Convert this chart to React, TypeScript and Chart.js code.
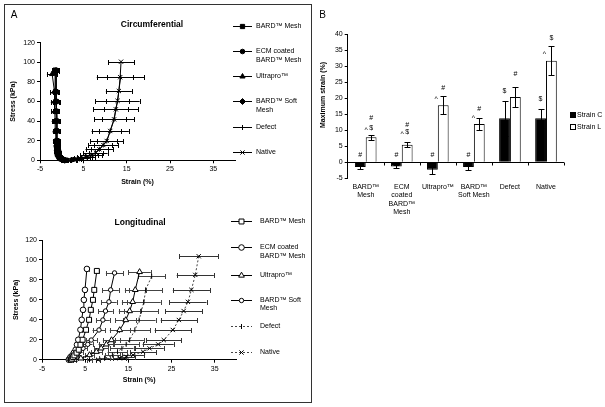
import React, { useEffect, useRef } from 'react';
import { Chart, registerables } from 'chart.js';
import { drawPoint } from 'chart.js/helpers';

Chart.register(...registerables);

const FONT = "'Liberation Sans', Arial, Helvetica, sans-serif";

// ---------- Panel A : stress / strain curves ----------
const X_TICKS = [-5, 5, 15, 25, 35];
const SERIES = ['BARD™ Mesh', 'ECM coated BARD™ Mesh', 'Ultrapro™', 'BARD™ Soft Mesh', 'Defect', 'Native'];
const LEGEND_LINES = [['BARD™ Mesh'], ['ECM coated', 'BARD™ Mesh'], ['Ultrapro™'], ['BARD™ Soft', 'Mesh'], ['Defect'], ['Native']];

// Circumferential (stress kPa, strain %, strain SD)
const C_BARD_STRESS = [0, 0.5, 1, 2, 3, 5, 7, 10, 15, 20, 30, 40, 50, 60, 70, 92];
const C_BARD_STRAIN = [0.8, 0.4, 0.1, -0.2, -0.4, -0.7, -0.8, -0.9, -1.0, -1.1, -1.2, -1.2, -1.25, -1.3, -1.35, -1.5];
const C_BARD_ERR = [0.2, 0.2, 0.3, 0.3, 0.3, 0.4, 0.4, 0.4, 0.5, 0.5, 0.6, 0.6, 0.6, 0.6, 0.6, 0.7];
const C_ECM_STRESS = [0, 0.5, 1, 2, 3, 5, 7, 10, 15, 20, 30, 40, 50, 60, 70, 92];
const C_ECM_STRAIN = [1.0, 0.6, 0.3, 0.0, -0.2, -0.5, -0.6, -0.7, -0.8, -0.9, -1.0, -1.0, -1.1, -1.1, -1.2, -1.3];
const C_ECM_ERR = [0.2, 0.2, 0.2, 0.3, 0.3, 0.3, 0.4, 0.4, 0.4, 0.5, 0.5, 0.5, 0.5, 0.6, 0.6, 0.6];
const C_ULTRA_STRESS = [0, 0.5, 1, 2, 3, 5, 7, 10, 15, 20, 30, 40, 50, 60, 70, 88];
const C_ULTRA_STRAIN = [0.6, 0.2, -0.1, -0.4, -0.6, -0.9, -1.0, -1.1, -1.2, -1.3, -1.4, -1.5, -1.6, -1.6, -1.7, -2.2];
const C_ULTRA_ERR = [0.2, 0.3, 0.3, 0.4, 0.4, 0.5, 0.5, 0.6, 0.6, 0.7, 0.7, 0.8, 0.8, 0.9, 0.9, 1.2];
const C_SOFT_STRESS = [0, 0.5, 1, 2, 3, 5, 7, 10, 15, 20, 30, 40, 50, 60, 70, 91];
const C_SOFT_STRAIN = [0.7, 0.3, 0.0, -0.3, -0.5, -0.8, -0.9, -1.0, -1.1, -1.2, -1.2, -1.3, -1.3, -1.4, -1.4, -1.5];
const C_SOFT_ERR = [0.2, 0.2, 0.3, 0.3, 0.4, 0.4, 0.4, 0.5, 0.5, 0.5, 0.6, 0.6, 0.7, 0.7, 0.7, 0.8];
const C_DEFECT_STRESS = [0, 0.3, 0.6, 1, 2, 3.5, 5.4, 7.8, 11.2, 15.6, 19.7, 29.9, 41.8, 52, 60.7, 84.8];
const C_DEFECT_STRAIN = [0.4, 1.4, 2.5, 3.5, 4.7, 5.7, 6.8, 7.8, 8.7, 9.6, 10.4, 11.2, 12.1, 12.5, 12.9, 13.6];
const C_DEFECT_ERR = [0.4, 0.8, 1.1, 1.4, 1.8, 2.1, 2.5, 2.8, 3.2, 3.5, 3.8, 4.3, 4.6, 5.2, 5.1, 5.5];
const C_NATIVE_STRESS = [0, 0.3, 0.6, 1, 2, 3.5, 5.4, 7.8, 11.2, 15.6, 19.7, 29.9, 41.8, 52, 60.7, 70.7, 84.8, 100.6];
const C_NATIVE_STRAIN = [0.5, 1.5, 2.6, 3.6, 4.8, 5.8, 6.9, 7.9, 8.7, 9.6, 10.4, 11.2, 12.1, 12.5, 12.9, 13.2, 13.5, 13.7];
const C_NATIVE_ERR = [0.3, 0.5, 0.7, 0.9, 1.1, 1.3, 1.5, 1.7, 1.9, 2.1, 2.3, 2.6, 2.7, 2.8, 2.7, 3.0, 3.0, 3.0];

// Longitudinal
const L_BARD_STRESS = [0, 1, 2.7, 4.3, 7, 10, 15, 20, 30, 40, 50, 60, 70, 89];
const L_BARD_STRAIN = [1.7, 1.9, 2.2, 2.5, 3.0, 3.5, 3.9, 4.4, 5.2, 5.9, 6.3, 6.8, 7.1, 7.7];
const L_BARD_ERR = [0.1, 0.1, 0.2, 0.2, 0.2, 0.3, 0.3, 0.3, 0.4, 0.4, 0.5, 0.5, 0.5, 0.6];
const L_ECM_STRESS = [0, 1, 2.7, 4.3, 7, 10, 15, 20, 30, 40, 50, 60, 70, 91];
const L_ECM_STRAIN = [1.2, 1.4, 1.6, 2.0, 2.4, 2.8, 3.1, 3.4, 3.9, 4.2, 4.5, 4.7, 4.95, 5.4];
const L_ECM_ERR = [0.1, 0.1, 0.1, 0.2, 0.2, 0.2, 0.2, 0.3, 0.3, 0.3, 0.3, 0.3, 0.3, 0.4];
const L_ULTRA_STRESS = [0, 1.4, 4.7, 8, 11.4, 15.4, 19.7, 29.8, 39.8, 48.8, 58, 70, 88];
const L_ULTRA_STRAIN = [2.5, 4.0, 6.0, 7.6, 8.7, 9.9, 11.1, 13.0, 14.4, 15.3, 16.0, 16.6, 17.6];
const L_ULTRA_ERR = [0.3, 0.6, 1.0, 1.3, 1.6, 1.8, 2.0, 2.3, 2.4, 2.5, 2.5, 2.4, 2.6];
const L_SOFT_STRESS = [0, 1.4, 4.7, 8, 11.4, 15.4, 19.7, 29.8, 39.8, 48.8, 58, 70, 87];
const L_SOFT_STRAIN = [1.5, 2.2, 3.0, 3.6, 4.5, 5.6, 6.4, 8.2, 9.1, 9.7, 10.5, 10.9, 11.8];
const L_SOFT_ERR = [0.2, 0.4, 0.6, 0.8, 1.0, 1.1, 1.3, 1.5, 1.6, 1.7, 1.8, 1.9, 2.0];
const L_DEFECT_STRESS = [0, 1.4, 4.7, 8, 11.4, 15.4, 19.7, 29.8, 39.8, 48.8, 58, 70, 83.6];
const L_DEFECT_STRAIN = [6, 9.5, 11.3, 12.5, 13.5, 14.5, 15.3, 16.5, 17.5, 18.0, 18.6, 19.0, 20.4];
const L_DEFECT_ERR = [0.5, 1.2, 1.8, 2.3, 2.7, 3.0, 3.3, 3.6, 3.8, 3.9, 3.9, 3.8, 3.2];
const L_NATIVE_STRESS = [0, 1.4, 3, 4.7, 8, 11.4, 15.4, 19.7, 29.8, 39.8, 48.8, 58, 70, 85, 103.7];
const L_NATIVE_STRAIN = [8, 13.0, 14.5, 16.1, 18.4, 19.9, 21.9, 23.2, 25.3, 26.7, 27.8, 28.8, 29.6, 30.5, 31.3];
const L_NATIVE_ERR = [0.5, 1.5, 2, 2.5, 3, 3.3, 3.6, 4, 4.2, 4.2, 4.3, 4.3, 4.3, 4.3, 4.5];

// ---------- Panel B : maximum strain ----------
const CATEGORIES = [['BARD™', 'Mesh'], ['ECM', 'coated', 'BARD™', 'Mesh'], ['Ultrapro™'], ['BARD™', 'Soft Mesh'], ['Defect'], ['Native']];
const BAR_SERIES = ['Strain C', 'Strain L'];
const STRAIN_C = [-1.5, -1.3, -2.3, -1.5, 13.8, 13.8];
const STRAIN_C_ERR = [0.7, 0.6, 1.2, 0.8, 5.5, 3.0];
const STRAIN_L = [7.8, 5.5, 17.8, 12.0, 20.4, 31.7];
const STRAIN_L_ERR = [0.8, 0.7, 2.8, 1.9, 3.2, 4.5];
// significance marks: category, series (0 = C, 1 = L), symbol
const MARKS: [number, number, string][] = [
  [0, 0, '#'], [0, 1, '^'], [0, 1, '$'], [0, 1, '#'],
  [1, 0, '#'], [1, 1, '^'], [1, 1, '$'], [1, 1, '#'],
  [2, 0, '#'], [2, 1, '^'], [2, 1, '#'],
  [3, 0, '#'], [3, 1, '^'], [3, 1, '#'],
  [4, 0, '$'], [4, 1, '#'],
  [5, 0, '$'], [5, 1, '^'], [5, 1, '$'],
];
// placement of each mark (px offsets from bar centre / top of error bar)
const MARK_OFFSETS: [number, number][] = [
  [0, -7], [-5, -5], [0, -7], [0, -16.5],
  [0, -7], [-5, -8], [0, -10], [0, -17.5],
  [0, -7], [-7, 2.5], [0, -8],
  [0, -7], [-6, 0], [0, -9],
  [0, -9.5], [0, -12.5],
  [0, -9], [-7, 8], [0, -8],
];

const pts = (strain: number[], stress: number[]) => strain.map((x, i) => ({ x, y: stress[i] }));

function lineDataset(i: number, strain: number[], stress: number[], err: number[], style: any) {
  return {
    label: SERIES[i],
    data: pts(strain, stress),
    xErr: err,
    showLine: true,
    tension: 0,
    clip: false,
    borderColor: style.line || '#000',
    borderWidth: 1,
    borderDash: style.dash || [],
    pointStyle: style.ps,
    pointRotation: style.rot || 0,
    pointRadius: style.r,
    pointBackgroundColor: style.fill,
    pointBorderColor: '#000',
    pointBorderWidth: 1,
    errColor: style.errColor || '#000',
  };
}

const xErrPlugin = {
  id: 'xErrBars',
  beforeDatasetsDraw(chart: any) {
    const { ctx } = chart;
    const xs = chart.scales.x;
    const ys = chart.scales.y;
    chart.data.datasets.forEach((ds: any) => {
      if (!ds.xErr) return;
      ctx.save();
      ctx.strokeStyle = ds.errColor;
      ctx.lineWidth = 1;
      ds.data.forEach((p: any, i: number) => {
        const e = ds.xErr[i];
        if (!e) return;
        const yy = Math.round(ys.getPixelForValue(p.y)) + 0.5;
        const x1 = xs.getPixelForValue(p.x - e);
        const x2 = xs.getPixelForValue(p.x + e);
        ctx.beginPath();
        ctx.moveTo(x1, yy); ctx.lineTo(x2, yy);
        ctx.moveTo(Math.round(x1) + 0.5, yy - 2.5); ctx.lineTo(Math.round(x1) + 0.5, yy + 2.5);
        ctx.moveTo(Math.round(x2) + 0.5, yy - 2.5); ctx.lineTo(Math.round(x2) + 0.5, yy + 2.5);
        ctx.stroke();
      });
      ctx.restore();
    });
  },
};

function lineOverlay(o: any) {
  return {
    id: 'lineOverlay',
    afterDraw(chart: any) {
      const ctx = chart.ctx;
      ctx.save();
      ctx.fillStyle = '#000';
      ctx.textBaseline = 'middle';
      if (o.letter) {
        ctx.font = `10px ${FONT}`;
        ctx.textAlign = 'center';
        ctx.fillText(o.letter, o.letterX, o.letterY);
      }
      ctx.font = `bold 8.5px ${FONT}`;
      ctx.textAlign = 'center';
      ctx.fillText(o.title, o.titleX, o.titleY);
      chart.data.datasets.forEach((ds: any, i: number) => {
        const y = o.rows[i];
        ctx.strokeStyle = ds.borderColor;
        ctx.lineWidth = 1;
        ctx.setLineDash(ds.borderDash || []);
        ctx.beginPath();
        ctx.moveTo(o.lx0, Math.round(y) + 0.5);
        ctx.lineTo(o.lx1, Math.round(y) + 0.5);
        ctx.stroke();
        ctx.setLineDash([]);
        ctx.fillStyle = ds.pointBackgroundColor;
        ctx.strokeStyle = '#000';
        drawPoint(ctx, { pointStyle: ds.pointStyle, rotation: ds.pointRotation, radius: ds.pointRadius, borderWidth: 1 }, (o.lx0 + o.lx1) / 2, Math.round(y) + 0.5);
        ctx.fillStyle = '#000';
        ctx.font = `7px ${FONT}`;
        ctx.textAlign = 'left';
        LEGEND_LINES[i].forEach((t, k) => ctx.fillText(t, o.tx, y + k * 8.7));
      });
      ctx.restore();
    },
  };
}

function lineConfig(datasets: any[], lay: any, overlay: any) {
  const tickFont = { family: FONT, size: 7 };
  const titleFont = { family: FONT, size: 7, weight: 'bold' as const };
  return {
    type: 'scatter' as const,
    data: { datasets },
    plugins: [xErrPlugin, lineOverlay(overlay)],
    options: {
      responsive: false,
      animation: false as const,
      devicePixelRatio: 1,
      layout: { padding: lay.padding },
      plugins: { legend: { display: false }, tooltip: { enabled: false }, title: { display: false } },
      scales: {
        x: {
          type: 'linear' as const,
          min: -5,
          max: 40,
          afterBuildTicks: (s: any) => { s.ticks = X_TICKS.map((v) => ({ value: v })); },
          afterFit: (s: any) => { s.height = lay.xH; },
          grid: { drawOnChartArea: false, tickLength: 3, color: '#000' },
          border: { color: '#000' },
          ticks: { font: tickFont, color: '#000', padding: 2, maxRotation: 0, autoSkip: false },
          title: { display: true, text: 'Strain (%)', font: titleFont, color: '#000', padding: 0 },
        },
        y: {
          min: 0,
          max: 120,
          afterFit: (s: any) => { s.width = lay.yW; },
          grid: { drawOnChartArea: false, tickLength: 3, color: '#000' },
          border: { color: '#000' },
          ticks: { stepSize: 20, font: tickFont, color: '#000', padding: 2 },
          title: { display: true, text: 'Stress (kPa)', font: titleFont, color: '#000', padding: 0 },
        },
      },
    },
  };
}

const barPlugin = {
  id: 'barExtras',
  afterDatasetsDraw(chart: any) {
    const { ctx, chartArea } = chart;
    const ys = chart.scales.y;
    const errs = [STRAIN_C_ERR, STRAIN_L_ERR];
    const vals = [STRAIN_C, STRAIN_L];
    ctx.save();
    ctx.strokeStyle = '#000';
    ctx.lineWidth = 1;
    // error bars
    [0, 1].forEach((s) => {
      const meta = chart.getDatasetMeta(s);
      meta.data.forEach((el: any, i: number) => {
        const x = Math.round(el.x) + 0.5;
        const y1 = Math.round(ys.getPixelForValue(vals[s][i] - errs[s][i])) + 0.5;
        const y2 = Math.round(ys.getPixelForValue(vals[s][i] + errs[s][i])) + 0.5;
        ctx.beginPath();
        ctx.moveTo(x, y1); ctx.lineTo(x, y2);
        ctx.moveTo(x - 3, y1); ctx.lineTo(x + 3, y1);
        ctx.moveTo(x - 3, y2); ctx.lineTo(x + 3, y2);
        ctx.stroke();
      });
    });
    // zero axis with tick marks
    const y0 = Math.round(ys.getPixelForValue(0)) + 0.5;
    ctx.beginPath();
    ctx.moveTo(chartArea.left, y0); ctx.lineTo(chartArea.right, y0);
    const n = CATEGORIES.length;
    for (let k = 1; k <= n; k++) {
      const x = Math.round(chartArea.left + (k * (chartArea.right - chartArea.left)) / n) + 0.5;
      ctx.moveTo(x, y0); ctx.lineTo(x, y0 + 3);
    }
    ctx.stroke();
    // significance marks
    ctx.fillStyle = '#000';
    ctx.font = `7px ${FONT}`;
    ctx.textAlign = 'center';
    ctx.textBaseline = 'middle';
    MARKS.forEach(([c, s, t], k) => {
      const el = chart.getDatasetMeta(s).data[c];
      const top = ys.getPixelForValue(Math.max(0, vals[s][c] + errs[s][c]));
      const [dx, dy] = MARK_OFFSETS[k];
      ctx.fillText(t, el.x + dx, top + dy);
    });
    ctx.restore();
  },
  afterDraw(chart: any) {
    const ctx = chart.ctx;
    ctx.save();
    ctx.fillStyle = '#000';
    ctx.textBaseline = 'middle';
    ctx.textAlign = 'center';
    ctx.font = `10px ${FONT}`;
    ctx.fillText('B', 8.7, 15.7);
    ctx.save();
    ctx.translate(9, 95);
    ctx.rotate(-Math.PI / 2);
    ctx.font = `bold 7px ${FONT}`;
    ctx.fillText('Maximum strain (%)', 0, 0);
    ctx.restore();
    // legend
    ctx.font = `7px ${FONT}`;
    ctx.textAlign = 'left';
    const rows = [115, 127];
    BAR_SERIES.forEach((name, i) => {
      const y = rows[i];
      ctx.fillStyle = i === 0 ? '#000' : '#fff';
      ctx.strokeStyle = '#000';
      ctx.fillRect(256.5, y - 2.5, 5, 5);
      ctx.strokeRect(256.5, y - 2.5, 5, 5);
      ctx.fillStyle = '#000';
      ctx.fillText(name, 263, y);
    });
    ctx.restore();
  },
};

function barConfig() {
  const tickFont = { family: FONT, size: 7 };
  return {
    type: 'bar' as const,
    data: {
      labels: CATEGORIES,
      datasets: [
        { label: BAR_SERIES[0], data: STRAIN_C, backgroundColor: '#000', borderColor: '#000', borderWidth: 1, categoryPercentage: 0.6, barPercentage: 1.0 },
        { label: BAR_SERIES[1], data: STRAIN_L, backgroundColor: '#fff', borderColor: '#000', borderWidth: 1, categoryPercentage: 0.6, barPercentage: 1.0 },
      ],
    },
    plugins: [barPlugin],
    options: {
      responsive: false,
      animation: false as const,
      devicePixelRatio: 1,
      layout: { padding: { left: 4, right: 41, top: 34.3, bottom: 11.7 } },
      plugins: { legend: { display: false }, tooltip: { enabled: false }, title: { display: false } },
      scales: {
        x: {
          grid: { display: false, drawTicks: false },
          border: { display: false },
          afterFit: (s: any) => { s.height = 40; },
          ticks: { font: tickFont, color: '#000', padding: 4.5, maxRotation: 0, autoSkip: false },
        },
        y: {
          min: -5,
          max: 40,
          afterFit: (s: any) => { s.width = 29.7; },
          grid: { drawOnChartArea: false, tickLength: 3, color: '#000' },
          border: { color: '#000' },
          ticks: { stepSize: 5, font: tickFont, color: '#000', padding: 2 },
        },
      },
    },
  };
}

export default function App() {
  const circRef = useRef<HTMLCanvasElement>(null);
  const longRef = useRef<HTMLCanvasElement>(null);
  const barRef = useRef<HTMLCanvasElement>(null);

  useEffect(() => {
    const circSets = [
      lineDataset(0, C_BARD_STRAIN, C_BARD_STRESS, C_BARD_ERR, { ps: 'rect', r: 3, fill: '#000' }),
      lineDataset(1, C_ECM_STRAIN, C_ECM_STRESS, C_ECM_ERR, { ps: 'circle', r: 2.3, fill: '#000' }),
      lineDataset(2, C_ULTRA_STRAIN, C_ULTRA_STRESS, C_ULTRA_ERR, { ps: 'triangle', r: 3, fill: '#000' }),
      lineDataset(3, C_SOFT_STRAIN, C_SOFT_STRESS, C_SOFT_ERR, { ps: 'rectRot', r: 3, fill: '#000' }),
      lineDataset(4, C_DEFECT_STRAIN, C_DEFECT_STRESS, C_DEFECT_ERR, { ps: 'line', rot: 90, r: 2.5, fill: '#000' }),
      lineDataset(5, C_NATIVE_STRAIN, C_NATIVE_STRESS, C_NATIVE_ERR, { ps: 'crossRot', r: 3, fill: '#000' }),
    ];
    const longSets = [
      lineDataset(0, L_BARD_STRAIN, L_BARD_STRESS, L_BARD_ERR, { ps: 'rect', r: 3.5, fill: '#fff', errColor: '#444' }),
      lineDataset(1, L_ECM_STRAIN, L_ECM_STRESS, L_ECM_ERR, { ps: 'circle', r: 2.8, fill: '#fff', errColor: '#444' }),
      lineDataset(2, L_ULTRA_STRAIN, L_ULTRA_STRESS, L_ULTRA_ERR, { ps: 'triangle', r: 3.3, fill: '#fff', errColor: '#444' }),
      lineDataset(3, L_SOFT_STRAIN, L_SOFT_STRESS, L_SOFT_ERR, { ps: 'circle', r: 2.2, fill: '#fff', errColor: '#444' }),
      lineDataset(4, L_DEFECT_STRAIN, L_DEFECT_STRESS, L_DEFECT_ERR, { ps: 'line', rot: 90, r: 2.5, fill: '#000', dash: [2, 2], line: '#444', errColor: '#444' }),
      lineDataset(5, L_NATIVE_STRAIN, L_NATIVE_STRESS, L_NATIVE_ERR, { ps: 'crossRot', r: 3, fill: '#000', dash: [2, 2], line: '#444', errColor: '#333' }),
    ];
    const charts = [
      new Chart(circRef.current as HTMLCanvasElement, lineConfig(circSets,
        { padding: { left: 9, right: 77, top: 42.7, bottom: 13.8 }, yW: 31, xH: 25.9 },
        { letter: 'A', letterX: 14, letterY: 15.7, title: 'Circumferential', titleX: 152, titleY: 24.3,
          rows: [25.7, 51, 76.3, 101.3, 126.7, 152.3], lx0: 233, lx1: 252, tx: 256 }) as any),
      new Chart(longRef.current as HTMLCanvasElement, lineConfig(longSets,
        { padding: { left: 12, right: 75.7, top: 40, bottom: 15.8 }, yW: 30, xH: 24.5 },
        { title: 'Longitudinal', titleX: 140, titleY: 22.7,
          rows: [21, 47, 75, 99.7, 126, 152.3], lx0: 231, lx1: 252, tx: 260 }) as any),
      new Chart(barRef.current as HTMLCanvasElement, barConfig() as any),
    ];
    return () => charts.forEach((c) => c.destroy());
  }, []);

  return (
    <div style={{ position: 'fixed', left: 0, top: 0, width: 605, height: 407, background: '#fff', overflow: 'hidden' }}>
      <div style={{ position: 'absolute', left: 4, top: 4, width: 308, height: 399, boxSizing: 'border-box', border: '1px solid #333' }} />
      <canvas ref={circRef} width={312} height={200} style={{ position: 'absolute', left: 0, top: 0 }} />
      <canvas ref={longRef} width={312} height={200} style={{ position: 'absolute', left: 0, top: 200 }} />
      <canvas ref={barRef} width={291} height={230} style={{ position: 'absolute', left: 314, top: 0 }} />
    </div>
  );
}
